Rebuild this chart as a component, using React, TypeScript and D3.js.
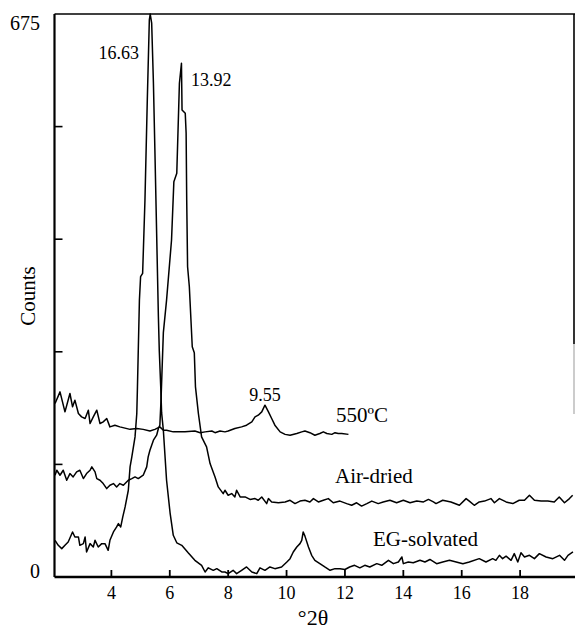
import React from "react";
import * as d3 from "d3";

// °2θ and counts
const egSolvated: [number, number][] = [
  [2.07, 44], [2.18, 38], [2.3, 34], [2.41, 38], [2.52, 42], [2.67, 54], [2.75, 48], [2.87, 48],
  [2.92, 38], [3.04, 40], [3.1, 48], [3.15, 30], [3.27, 40], [3.38, 36], [3.44, 44], [3.55, 36],
  [3.67, 40], [3.78, 40], [3.89, 32], [3.95, 44], [4.07, 54], [4.18, 60], [4.24, 64], [4.32, 60],
  [4.39, 72], [4.47, 84], [4.58, 104], [4.64, 132], [4.7, 144], [4.81, 168], [4.87, 196], [4.89, 224],
  [4.96, 332], [5.0, 360], [5.07, 364], [5.15, 452], [5.23, 572], [5.3, 668], [5.33, 675], [5.38, 664],
  [5.44, 592], [5.49, 512], [5.55, 412], [5.61, 312], [5.64, 272], [5.69, 228], [5.72, 197], [5.78, 176],
  [5.89, 116], [6.01, 77], [6.12, 50], [6.24, 41], [6.41, 38], [6.63, 29], [6.86, 20], [7.09, 14],
  [7.21, 6], [7.32, 11], [7.49, 8], [7.61, 10], [7.78, 6], [7.89, 6], [8.0, 4], [8.17, 8], [8.29, 4],
  [8.46, 8], [8.63, 12], [8.81, 6], [8.98, 4], [9.09, 11], [9.26, 8], [9.43, 12], [9.6, 10], [9.83, 12],
  [10.01, 18], [10.12, 22], [10.23, 30], [10.35, 36], [10.46, 40], [10.52, 44], [10.57, 54], [10.63, 49],
  [10.75, 36], [10.86, 26], [10.97, 20], [11.14, 16], [11.31, 12], [11.49, 8], [11.66, 10], [11.83, 10],
  [12.0, 9], [12.16, 12], [12.33, 14], [12.51, 11], [12.68, 14], [12.85, 12], [13.09, 16], [13.26, 14],
  [13.49, 20], [13.66, 16], [13.83, 18], [13.95, 24], [14.0, 16], [14.17, 18], [14.34, 17], [14.57, 20],
  [14.74, 18], [14.91, 21], [15.14, 16], [15.35, 18], [15.58, 20], [15.81, 18], [16.04, 16], [16.26, 18],
  [16.6, 22], [16.83, 18], [17.06, 22], [17.17, 20], [17.29, 26], [17.4, 22], [17.52, 25], [17.69, 20],
  [17.8, 28], [17.92, 18], [18.03, 29], [18.15, 24], [18.32, 26], [18.49, 22], [18.66, 28], [18.89, 24],
  [19.12, 22], [19.35, 26], [19.52, 20], [19.64, 26], [19.81, 30],
];

const airDried: [number, number][] = [
  [2.07, 122], [2.13, 128], [2.24, 122], [2.35, 128], [2.47, 116], [2.58, 124], [2.69, 120], [2.81, 126],
  [2.92, 128], [3.04, 118], [3.15, 124], [3.27, 128], [3.33, 132], [3.44, 126], [3.5, 118], [3.61, 116],
  [3.72, 112], [3.84, 106], [3.95, 110], [4.07, 112], [4.18, 108], [4.29, 112], [4.41, 110], [4.58, 116],
  [4.7, 118], [4.81, 120], [4.92, 118], [5.09, 122], [5.21, 132], [5.26, 144], [5.32, 152], [5.38, 158],
  [5.44, 164], [5.55, 170], [5.61, 178], [5.66, 182], [5.7, 212], [5.78, 293], [5.89, 332], [6.06, 404],
  [6.14, 474], [6.24, 484], [6.33, 592], [6.4, 616], [6.42, 560], [6.53, 556], [6.56, 532], [6.58, 452],
  [6.61, 372], [6.67, 348], [6.77, 276], [6.84, 269], [6.88, 228], [6.98, 196], [7.09, 168], [7.26, 156],
  [7.38, 136], [7.55, 120], [7.66, 108], [7.83, 100], [7.89, 104], [8.0, 98], [8.12, 100], [8.23, 96],
  [8.29, 104], [8.41, 96], [8.58, 96], [8.75, 93], [8.92, 94], [9.03, 92], [9.15, 96], [9.32, 88],
  [9.38, 94], [9.49, 90], [9.72, 89], [9.95, 90], [10.12, 92], [10.29, 88], [10.46, 91], [10.63, 92],
  [10.8, 90], [10.92, 94], [11.09, 90], [11.26, 92], [11.43, 94], [11.6, 89], [11.83, 91], [12.06, 88],
  [12.23, 86], [12.4, 89], [12.57, 85], [12.75, 88], [12.92, 91], [13.14, 88], [13.31, 90], [13.54, 92],
  [13.77, 89], [14.0, 92], [14.23, 89], [14.46, 91], [14.69, 90], [14.86, 93], [15.03, 90], [15.12, 88],
  [15.35, 92], [15.63, 90], [15.92, 86], [16.15, 94], [16.26, 91], [16.43, 86], [16.6, 90], [16.78, 91],
  [17.0, 94], [17.12, 89], [17.29, 94], [17.52, 90], [17.75, 88], [17.97, 92], [18.15, 92], [18.32, 98],
  [18.49, 92], [18.72, 91], [18.95, 91], [19.17, 90], [19.34, 96], [19.52, 89], [19.69, 94], [19.8, 98],
];

const heated550: [number, number][] = [
  [2.07, 208], [2.24, 222], [2.41, 198], [2.58, 220], [2.67, 204], [2.75, 212], [2.87, 196], [2.98, 192],
  [3.1, 190], [3.21, 200], [3.27, 184], [3.38, 192], [3.5, 200], [3.61, 184], [3.72, 186], [3.84, 190],
  [3.95, 180], [4.12, 182], [4.29, 180], [4.64, 177], [4.87, 178], [5.09, 177], [5.32, 175], [5.49, 177],
  [5.66, 180], [5.78, 176], [5.89, 176], [6.12, 174], [6.18, 174], [6.52, 174], [6.86, 175], [7.04, 173],
  [7.21, 174], [7.44, 175], [7.55, 173], [7.72, 175], [7.89, 174], [8.0, 175], [8.23, 178], [8.46, 180],
  [8.63, 182], [8.81, 186], [8.92, 192], [9.03, 194], [9.15, 198], [9.26, 206], [9.38, 198], [9.49, 190],
  [9.6, 182], [9.78, 174], [9.95, 171], [10.12, 170], [10.35, 172], [10.52, 174], [10.63, 175], [10.8, 173],
  [10.97, 170], [11.14, 172], [11.26, 174], [11.38, 172], [11.55, 171], [11.66, 173], [11.77, 172],
  [11.89, 172], [12.12, 171],
];

const xTicks = [4, 6, 8, 10, 12, 14, 16, 18];
const yTicks = [135, 270, 405, 540];
const yTickLabels = [0, 675];
const peakLabels = [
  { text: "16.63", x: 5.31, y: 675 },
  { text: "13.92", x: 6.35, y: 616 },
  { text: "9.55", x: 9.26, y: 206 },
];
const seriesLabels = ["550ºC", "Air-dried", "EG-solvated"];

export default function App() {
  const W = 576;
  const H = 629;
  const x = d3.scaleLinear().domain([2, 20]).range([53, 578.5]);
  const y = d3.scaleLinear().domain([0, 675]).range([577, 14]);
  const line = d3
    .line<[number, number]>()
    .x((d) => x(d[0]))
    .y((d) => y(d[1]));
  const font = "'Liberation Serif', 'Times New Roman', serif";
  const left = 54.5;
  const right = 574;

  return (
    <svg
      width={W}
      height={H}
      style={{ position: "absolute", left: 0, top: 0, background: "#fff" }}
      fontFamily={font}
    >
      {/* frame */}
      <line x1={left} x2={left} y1={y(675)} y2={y(0)} stroke="#000" strokeWidth={2.2} />
      <line x1={left} x2={right + 1} y1={y(0)} y2={y(0)} stroke="#000" strokeWidth={2.4} />
      <line x1={left} x2={right + 1} y1={y(675)} y2={y(675)} stroke="#000" strokeWidth={1.6} />
      <line x1={right} x2={right} y1={y(675)} y2={y(675) + 330} stroke="#000" strokeWidth={1.6} />
      <line x1={right} x2={right} y1={y(675) + 330} y2={y(675) + 400} stroke="#999" strokeWidth={1} />

      {/* y ticks */}
      {yTicks.map((t) => (
        <line key={t} x1={left} x2={left + 8} y1={y(t)} y2={y(t)} stroke="#000" strokeWidth={1.6} />
      ))}
      {yTickLabels.map((t) => (
        <text
          key={t}
          x={40}
          y={t === 0 ? y(t) + 1 : y(t) + 16}
          textAnchor="end"
          fontSize={20}
        >
          {t}
        </text>
      ))}

      {/* x ticks */}
      {xTicks.map((t) => (
        <g key={t}>
          <line x1={x(t)} x2={x(t)} y1={y(0)} y2={y(0) - 7} stroke="#000" strokeWidth={1.8} />
          <text x={x(t)} y={599} textAnchor="middle" fontSize={18}>
            {t}
          </text>
        </g>
      ))}

      {/* axis titles */}
      <text
        transform={`translate(35, 296) rotate(-90)`}
        textAnchor="middle"
        fontSize={21}
      >
        Counts
      </text>
      <text x={313} y={625} textAnchor="middle" fontSize={22}>
        °2θ
      </text>

      {/* traces */}
      {[egSolvated, airDried, heated550].map((s, i) => (
        <path
          key={i}
          d={line(s) || ""}
          fill="none"
          stroke="#000"
          strokeWidth={1.5}
          strokeLinejoin="round"
        />
      ))}

      {/* peak labels */}
      <text x={139} y={59} textAnchor="end" fontSize={18}>
        {peakLabels[0].text}
      </text>
      <text x={191} y={86} textAnchor="start" fontSize={18}>
        {peakLabels[1].text}
      </text>
      <text x={x(peakLabels[2].x)} y={y(peakLabels[2].y) - 4} textAnchor="middle" fontSize={18}>
        {peakLabels[2].text}
      </text>

      {/* series labels */}
      <text x={336} y={422} fontSize={21}>
        {seriesLabels[0]}
      </text>
      <text x={335} y={483} fontSize={21}>
        {seriesLabels[1]}
      </text>
      <text x={373} y={546} fontSize={21}>
        {seriesLabels[2]}
      </text>
    </svg>
  );
}
